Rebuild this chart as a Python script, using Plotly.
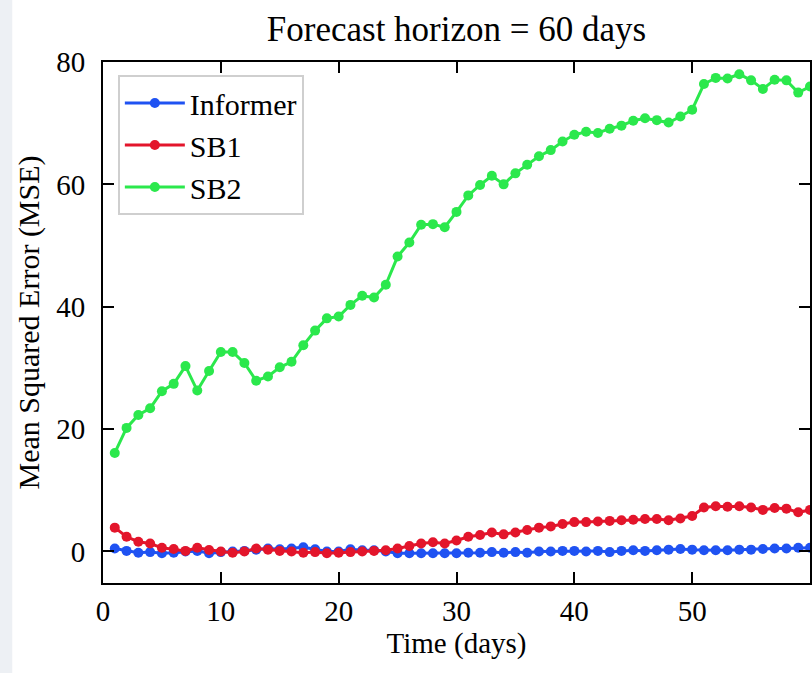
import plotly.graph_objects as go

days = list(range(1, 61))

informer = [0.5, 0.1, -0.2, -0.1, -0.3, -0.2, 0.0, 0.1, -0.3, -0.1,
            0.0, 0.1, 0.3, 0.5, 0.35, 0.5, 0.7, 0.35, 0.0, 0.0,
            0.35, 0.2, 0.2, 0.0, -0.3, -0.3, -0.3, -0.3, -0.3, -0.3,
            -0.2, -0.2, -0.1, -0.2, -0.1, -0.2, 0.0, 0.0, 0.1, 0.1,
            0.0, 0.1, -0.1, 0.1, 0.2, 0.1, 0.2, 0.3, 0.4, 0.3,
            0.2, 0.2, 0.2, 0.3, 0.3, 0.4, 0.5, 0.5, 0.6, 0.6]

sb1 = [3.9, 2.4, 1.6, 1.3, 0.6, 0.4, 0.1, 0.6, 0.25, 0.0,
       -0.2, 0.0, 0.5, 0.3, 0.1, 0.0, -0.2, -0.1, -0.3, -0.2,
       -0.1, 0.0, 0.1, 0.2, 0.5, 0.9, 1.3, 1.5, 1.3, 1.8,
       2.4, 2.7, 3.1, 2.8, 3.1, 3.5, 3.9, 4.1, 4.5, 4.8,
       4.8, 4.9, 5.0, 5.1, 5.2, 5.3, 5.3, 5.1, 5.4, 5.8,
       7.2, 7.4, 7.3, 7.4, 7.2, 6.8, 7.1, 7.0, 6.4, 6.8]

sb2 = [16.1, 20.2, 22.3, 23.4, 26.2, 27.4, 30.3, 26.3, 29.5, 32.6,
       32.6, 30.8, 27.9, 28.6, 30.1, 31.0, 33.7, 36.1, 38.1, 38.4,
       40.3, 41.8, 41.5, 43.6, 48.2, 50.5, 53.4, 53.5, 53.0, 55.5,
       58.2, 59.9, 61.4, 60.0, 61.8, 63.2, 64.6, 65.6, 67.0, 68.1,
       68.6, 68.4, 69.1, 69.6, 70.4, 70.8, 70.5, 70.1, 71.1, 72.2,
       76.4, 77.4, 77.3, 78.0, 77.0, 75.6, 77.1, 77.0, 75.0, 76.0]

series_names = ["Informer", "SB1", "SB2"]
series_values = [informer, sb1, sb2]
series_colors = ["#1f52f2", "#e3152b", "#2be84c"]

x_ticks = [0, 10, 20, 30, 40, 50]
y_ticks = [0, 20, 40, 60, 80]

FONT = "Liberation Serif, Times New Roman, serif"

fig = go.Figure()
for name, vals, col in zip(series_names, series_values, series_colors):
    fig.add_trace(go.Scatter(
        x=days, y=vals, name=name, mode="lines+markers",
        line=dict(color=col, width=3),
        marker=dict(color=col, size=10),
        cliponaxis=True,
    ))

axis_common = dict(
    showgrid=False, zeroline=False, showline=True, linecolor="black",
    linewidth=2, mirror="ticks", ticks="inside", ticklen=11, tickwidth=1.6,
    tickcolor="black", tickfont=dict(family=FONT, size=29, color="black"),
)

fig.update_layout(
    width=812, height=673,
    margin=dict(l=103, r=0, t=62, b=90),
    paper_bgcolor="#edf0f4",
    plot_bgcolor="white",
    font=dict(family=FONT, color="black"),
    title=dict(text="Forecast horizon = 60 days", x=0.5, xref="paper",
               y=1 - 29 / 673, yanchor="middle", yref="container",
               font=dict(family=FONT, size=35, color="black")),
    xaxis=dict(range=[0, 60], tickvals=x_ticks,
               title=dict(text="Time (days)", font=dict(family=FONT, size=29), standoff=4),
               ticklabelstandoff=1, **axis_common),
    yaxis=dict(range=[-5.15, 80], tickvals=y_ticks,
               title=dict(text="Mean Squared Error (MSE)", font=dict(family=FONT, size=30), standoff=8),
               ticklabelstandoff=10, **axis_common),
    legend=dict(x=0.021, y=0.975, xanchor="left", yanchor="top",
                bgcolor="white", bordercolor="#cfcfcf", borderwidth=2,
                font=dict(family=FONT, size=30, color="black"),
                itemwidth=60, tracegroupgap=0),
    shapes=[dict(type="rect", xref="paper", yref="paper",
                 x0=(12 - 103) / 709, x1=1.05, y0=-0.2, y1=1.2,
                 fillcolor="white", line=dict(width=0), layer="below")],
    showlegend=True,
)

fig.write_html("out.html")
